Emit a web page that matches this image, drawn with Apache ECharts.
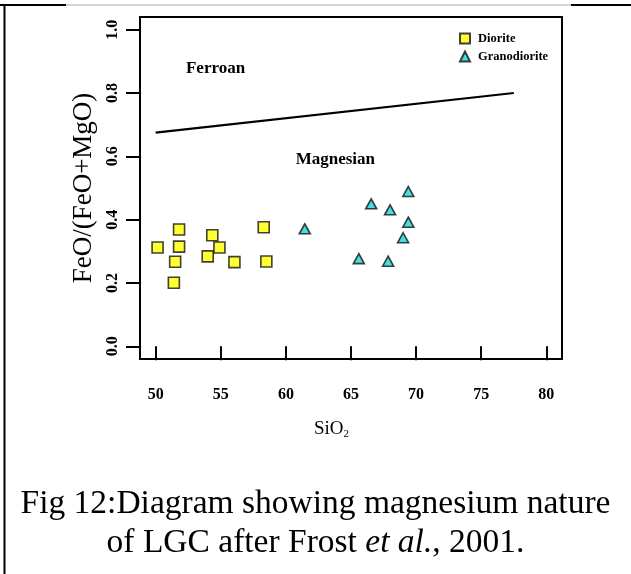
<!DOCTYPE html>
<html>
<head>
<meta charset="utf-8">
<script src="https://cdn.jsdelivr.net/npm/echarts@6/dist/echarts.min.js"></script>
<style>
  html, body { margin: 0; padding: 0; background: #fff; }
  #chart { width: 631px; height: 574px; }
</style>
</head>
<body>
<div id="chart"></div>
<script>
// SiO2 (wt%) and FeO/(FeO+MgO) for each rock group
const dioriteSiO2 = [50.15, 51.8, 51.8, 51.5, 51.4, 54.35, 54.9, 54.0, 56.05, 58.3, 58.5];
const dioriteFeO  = [0.312, 0.369, 0.315, 0.267, 0.201, 0.351, 0.312, 0.284, 0.266, 0.376, 0.268];
const granoSiO2   = [61.45, 66.55, 68.0, 69.4, 69.4, 69.0, 65.6, 67.85];
const granoFeO    = [0.371, 0.450, 0.431, 0.489, 0.392, 0.343, 0.277, 0.269];

// Ferroan / magnesian boundary
const boundarySiO2 = [50, 77.5];
const boundaryFeO  = [0.675, 0.80];

// Field names and where they sit (data units)
const fieldNames = ['Ferroan', 'Magnesian'];
const fieldSiO2  = [54.6, 63.8];
const fieldFeO   = [0.877, 0.59];

// Tick labels
const xTicks = [50, 55, 60, 65, 70, 75, 80];
const yTicks = [0.0, 0.2, 0.4, 0.6, 0.8, 1.0];

const zip = (a, b) => a.map((v, i) => [v, b[i]]);
const serif = '"Liberation Serif", "Times New Roman", serif';

const chart = echarts.init(document.getElementById('chart'), null, { renderer: 'canvas' });

chart.setOption({
  animation: false,
  backgroundColor: '#fff',
  grid: {
    left: 140, top: 17, right: 69, bottom: 215,
    show: true, borderColor: '#000', borderWidth: 2,
    containLabel: false, outerBoundsMode: 'none'
  },
  xAxis: {
    type: 'value', min: 48.8, max: 81.2,
    axisLine: { show: false },
    splitLine: { show: false },
    axisTick: { show: true, length: 14, lineStyle: { color: '#000', width: 2 }, customValues: xTicks },
    axisLabel: {
      customValues: xTicks, margin: 28,
      color: '#000', fontFamily: serif, fontSize: 16, fontWeight: 'bold'
    }
  },
  yAxis: {
    type: 'value', min: -0.04, max: 1.04,
    axisLine: { show: false },
    splitLine: { show: false },
    axisTick: { show: true, length: 14, lineStyle: { color: '#000', width: 2 }, customValues: yTicks },
    axisLabel: {
      customValues: yTicks, rotate: 90, margin: 19,
      formatter: v => Number(v).toFixed(1),
      color: '#000', fontFamily: serif, fontSize: 16, fontWeight: 'bold'
    },
    name: 'FeO/(FeO+MgO)', nameLocation: 'middle', nameGap: 39, nameRotate: 90,
    nameTextStyle: { color: '#000', fontFamily: serif, fontSize: 27 }
  },
  legend: {
    orient: 'vertical', left: 454, top: 27,
    itemWidth: 10, itemHeight: 10, itemGap: 5,
    textStyle: { color: '#000', fontFamily: serif, fontSize: 12.5, fontWeight: 'bold', padding: [0, 0, 0, 3] },
    data: [
      { name: 'Diorite', icon: 'rect' },
      { name: 'Granodiorite', icon: 'triangle' }
    ]
  },
  series: [
    {
      name: 'boundary', type: 'line', data: zip(boundarySiO2, boundaryFeO),
      symbol: 'none', lineStyle: { color: '#000', width: 2.2 }, silent: true
    },
    {
      name: 'Diorite', type: 'scatter', data: zip(dioriteSiO2, dioriteFeO),
      symbol: 'rect', symbolSize: 11,
      itemStyle: { color: '#ffff00', borderColor: '#111', borderWidth: 1.6 }
    },
    {
      name: 'Granodiorite', type: 'scatter', data: zip(granoSiO2, granoFeO),
      symbol: 'triangle', symbolSize: [11, 10],
      itemStyle: { color: '#1ad6d6', borderColor: '#111', borderWidth: 1.6 }
    },
    {
      name: 'fields', type: 'custom', data: zip(fieldSiO2, fieldFeO),
      renderItem: (params, api) => {
        const p = api.coord([api.value(0), api.value(1)]);
        return {
          type: 'text', x: p[0], y: p[1],
          style: {
            text: fieldNames[params.dataIndex],
            fill: '#000', font: 'bold 17px ' + serif,
            align: 'center', verticalAlign: 'middle'
          }
        };
      }
    }
  ],
  graphic: [
    // page frame
    { type: 'line', shape: { x1: 4.5, y1: 5, x2: 4.5, y2: 574 }, style: { stroke: '#000', lineWidth: 2 } },
    { type: 'line', shape: { x1: 0, y1: 5, x2: 66, y2: 5 }, style: { stroke: '#000', lineWidth: 2 } },
    { type: 'line', shape: { x1: 66, y1: 5, x2: 571, y2: 5 }, style: { stroke: '#aaa', lineWidth: 1 } },
    { type: 'line', shape: { x1: 571, y1: 5, x2: 631, y2: 5 }, style: { stroke: '#000', lineWidth: 2 } },
    // x-axis title
    {
      type: 'text', left: 314, top: 420,
      style: {
        text: 'SiO{sub|2}', fill: '#000', font: '19px ' + serif,
        rich: { sub: { fontSize: 11, fontFamily: serif, padding: [10, 0, 0, 0] } }
      }
    },
    // caption
    {
      type: 'text', x: 315.5, y: 504,
      style: {
        text: 'Fig 12:Diagram showing magnesium nature', fill: '#000',
        font: '33.5px ' + serif, align: 'center', verticalAlign: 'middle'
      }
    },
    {
      type: 'text', x: 315.5, y: 543,
      style: {
        text: 'of LGC after Frost {it|et al.}, 2001.', fill: '#000',
        font: '33.5px ' + serif, align: 'center', verticalAlign: 'middle',
        rich: { it: { fontStyle: 'italic', fontSize: 33.5, fontFamily: serif } }
      }
    }
  ]
});
</script>
</body>
</html>
